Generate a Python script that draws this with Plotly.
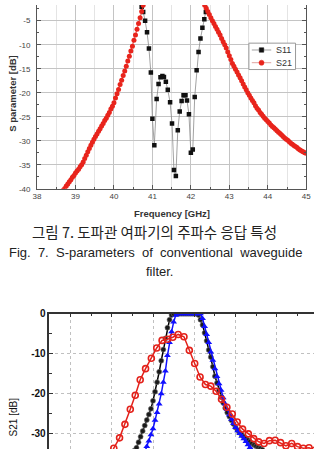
import plotly.graph_objects as go

# ---------------- top chart data (Fig. 7) ----------------
S21_FREQ = [
    38.68, 38.72, 38.76, 38.80, 38.84, 38.88, 38.92, 38.96,
    39.00, 39.04, 39.08, 39.12, 39.16, 39.20, 39.24, 39.28,
    39.32, 39.36, 39.40, 39.44, 39.48, 39.52, 39.56, 39.60,
    39.64, 39.68, 39.72, 39.76, 39.80, 39.84, 39.88, 39.92,
    39.96, 40.00, 40.04, 40.08, 40.12, 40.16, 40.20, 40.24,
    40.28, 40.32, 40.36, 40.40, 40.44, 40.48, 40.52, 40.56,
    40.60, 40.64, 40.68, 40.72, 40.76, 40.80, 40.84,
    41.00, 41.20, 41.40, 41.60, 41.80, 42.00, 42.20,
    42.32, 42.36, 42.40, 42.44, 42.48, 42.52, 42.56, 42.60, 42.64, 42.68,
    42.72, 42.76, 42.80, 42.84, 42.88, 42.92, 42.96, 43.00, 43.04, 43.08,
    43.12, 43.16, 43.20, 43.24, 43.28, 43.32, 43.36, 43.40, 43.44, 43.48,
    43.52, 43.56, 43.60, 43.64, 43.68, 43.72, 43.76, 43.80, 43.84, 43.88,
    43.92, 43.96, 44.00, 44.04, 44.08, 44.12, 44.16, 44.20, 44.24, 44.28,
    44.32, 44.36, 44.40, 44.44, 44.48, 44.52, 44.56, 44.60, 44.64, 44.68,
    44.72, 44.76, 44.80, 44.84, 44.88, 44.92, 44.96, 45.00,
]
S21_DB = [
    -40.3, -39.9, -39.4, -39.0, -38.5, -38.1, -37.6, -37.2,
    -36.7, -36.3, -35.9, -35.4, -35.0, -34.4, -33.7, -33.0,
    -32.3, -31.6, -30.9, -30.3, -29.7, -29.1, -28.6, -28.0,
    -27.5, -26.9, -26.4, -25.8, -25.3, -24.7, -24.1, -23.4,
    -22.8, -22.1, -21.1, -20.2, -19.3, -18.3, -17.4, -16.4,
    -15.5, -14.5, -13.4, -12.4, -11.3, -10.3, -9.1, -8.0,
    -6.8, -5.6, -4.4, -3.1, -1.8, -0.7, -0.3,
    -0.2, -0.4, -0.3, -0.5, -0.3, -0.4, -0.3,
    -1.2, -1.8, -2.4, -3.1, -3.7, -4.4, -5.0, -5.6, -6.2, -6.8,
    -7.4, -8.0, -8.7, -9.4, -10.0, -10.7, -11.5, -12.3, -13.1, -13.9,
    -14.5, -15.1, -15.7, -16.3, -16.9, -17.5, -18.2, -18.8, -19.4, -20.0,
    -20.5, -21.1, -21.6, -22.1, -22.7, -23.2, -23.6, -24.1, -24.5, -24.9,
    -25.3, -25.6, -26.0, -26.3, -26.7, -27.0, -27.3, -27.6, -27.9, -28.2,
    -28.5, -28.8, -29.1, -29.4, -29.7, -29.9, -30.2, -30.5, -30.7, -31.0,
    -31.2, -31.4, -31.7, -31.9, -32.1, -32.3, -32.5, -32.6,
]
S11_FREQ = [
    40.67, 40.72, 40.76, 40.81, 40.86, 40.91, 40.96, 41.00, 41.05, 41.11,
    41.16, 41.21, 41.26, 41.30, 41.35, 41.40, 41.46, 41.51, 41.56, 41.61,
    41.66, 41.71, 41.76, 41.81, 41.86, 41.90, 41.95, 42.00, 42.05, 42.10,
    42.15, 42.20, 42.25, 42.30, 42.35, 42.39, 42.44,
]
S11_DB = [
    -0.8, -2.1, -3.2, -5.0, -7.4, -10.8, -15.8, -25.4, -30.9, -21.3,
    -18.2, -16.8, -16.5, -16.7, -17.7, -19.4, -22.0, -26.4, -36.1, -37.3,
    -27.8, -23.9, -21.7, -20.5, -20.5, -21.6, -24.5, -32.5, -31.8, -20.9,
    -15.3, -11.5, -8.7, -6.5, -4.7, -3.2, -1.0,
]
SERIES_NAMES = ["S11", "S21"]
TOP_XTICKS = [38, 39, 40, 41, 42, 43, 44, 45]
TOP_XTEXT = ["38", "39", "40", "41", "42", "43", "44", "45"]
TOP_YTICKS = [-40, -35, -30, -25, -20, -15, -10, -5]
TOP_YTEXT = ["-40", "-35", "-30", "-25", "-20", "-15", "-10", "-5"]

# ---------------- bottom chart data ----------------
B_RED_X = [
    38.91, 39.05, 39.19, 39.32, 39.45, 39.57, 39.69, 39.82, 39.96, 40.09,
    40.22, 40.35, 40.48, 40.61, 40.75, 40.88, 41.01, 41.14, 41.27, 41.40,
    41.53, 41.66, 41.79, 41.92, 42.04, 42.17, 42.31, 42.44, 42.56, 42.69,
    42.82, 42.96, 43.09, 43.22, 43.36, 43.50, 43.64, 43.78, 43.92,
]
B_RED_Y = [
    -37.0, -33.8, -31.2, -27.8, -24.0, -20.5, -16.6, -13.8, -11.2, -8.6,
    -6.7, -6.4, -5.9, -5.2, -5.8, -9.2, -12.5, -15.9, -17.8, -18.2,
    -19.5, -21.5, -23.5, -25.2, -27.2, -29.0, -30.2, -31.4, -32.2, -32.6,
    -31.9, -31.8, -32.4, -33.2, -32.6, -33.4, -33.8, -33.7, -34.3,
]
B_BLACK_X = [
    39.50, 39.55, 39.60, 39.65, 39.70, 39.75, 39.80, 39.85, 39.90, 39.95,
    40.00, 40.05, 40.10, 40.15, 40.20, 40.25, 40.30, 40.35, 40.40, 40.45,
    40.50, 40.55, 40.60, 40.65, 40.70, 40.75, 40.80, 40.85, 40.90, 40.95,
    41.00, 41.05, 41.10, 41.15, 41.20, 41.25, 41.30, 41.35, 41.40, 41.45,
    41.50, 41.55, 41.60, 41.65, 41.70, 41.75, 41.80, 41.85, 41.90, 41.95,
    42.00, 42.05, 42.10, 42.15, 42.20, 42.25, 42.30, 42.35, 42.40, 42.45,
    42.50, 42.55, 42.60, 42.65,
]
B_BLACK_Y = [
    -35.1, -34.4, -33.7, -32.3, -30.9, -29.5, -28.1, -26.7, -25.3, -23.9,
    -21.9, -19.6, -17.2, -14.6, -11.8, -9.0, -6.2, -3.5, -1.5, -0.3,
    0, 0, 0, 0, 0, 0, 0, 0, 0, 0,
    0, 0, -0.3, -1.5, -2.8, -4.8, -6.8, -9.1, -10.9, -13.3,
    -15.7, -17.4, -19.2, -20.9, -22.4, -23.7, -24.8, -25.8, -26.8, -27.7,
    -28.6, -29.3, -29.9, -30.4, -30.9, -31.3, -31.8, -32.2, -32.6, -33.0,
    -33.3, -33.6, -33.9, -34.2,
]
B_BLUE_X = [
    39.80, 39.85, 39.90, 39.95, 40.00, 40.05, 40.10, 40.15, 40.20, 40.25,
    40.30, 40.35, 40.40, 40.45, 40.50, 40.55, 40.60, 40.65, 40.70, 40.75,
    40.80, 40.85, 40.90, 40.95, 41.00, 41.05, 41.10, 41.15, 41.20, 41.25,
    41.30, 41.35, 41.40, 41.45, 41.50, 41.55, 41.60, 41.65, 41.70, 41.75,
    41.80, 41.85, 41.90, 41.95, 42.00, 42.05, 42.10, 42.15, 42.20, 42.25,
    42.30, 42.35, 42.40,
]
B_BLUE_Y = [
    -34.8, -33.4, -32.0, -30.4, -28.9, -26.8, -24.8, -22.7, -20.1, -17.2,
    -14.4, -10.5, -7.2, -4.5, -2.1, -0.4, 0, 0, 0, 0,
    0, 0, 0, 0, 0, 0, 0, 0, -1.2, -3.2,
    -5.2, -7.2, -9.6, -11.7, -13.8, -15.8, -17.6, -19.2, -21.1, -22.7,
    -24.1, -25.4, -26.5, -27.6, -28.6, -29.4, -30.1, -30.8, -31.4, -32.1,
    -32.9, -33.6, -34.4,
]
BOT_YTICKS = [0, -10, -20, -30]
BOT_YTEXT = ["0", "-10", "-20", "-30"]

W, H = 319, 454
def px(x):
    return x / W
def py(y):
    return 1 - y / H

S11_COLOR = "#111111"
S21_COLOR = "#e8241c"
ARIAL = "Liberation Sans, Arial, sans-serif"

fig = go.Figure()

# top chart traces
fig.add_trace(go.Scatter(
    x=S11_FREQ, y=S11_DB, name=SERIES_NAMES[0], mode="lines+markers",
    line=dict(color="#8a8a8a", width=0.8),
    marker=dict(symbol="square", size=4.5, color=S11_COLOR),
    xaxis="x", yaxis="y", showlegend=False))
fig.add_trace(go.Scatter(
    x=S21_FREQ, y=S21_DB, name=SERIES_NAMES[1], mode="lines+markers",
    line=dict(color=S21_COLOR, width=0.8),
    marker=dict(symbol="circle", size=5, color=S21_COLOR),
    xaxis="x", yaxis="y", showlegend=False))

# bottom chart traces
fig.add_trace(go.Scatter(
    x=B_BLACK_X, y=B_BLACK_Y, mode="lines+markers", showlegend=False,
    line=dict(color="#000000", width=1.5),
    marker=dict(symbol="circle", size=5, color="#1a1a1a",
                line=dict(color="#777777", width=0.6)),
    xaxis="x2", yaxis="y2"))
fig.add_trace(go.Scatter(
    x=B_BLUE_X, y=B_BLUE_Y, mode="lines+markers", showlegend=False,
    line=dict(color="#1010ff", width=1.5),
    marker=dict(symbol="triangle-up", size=6, color="#1010ff"),
    xaxis="x2", yaxis="y2"))
fig.add_trace(go.Scatter(
    x=B_RED_X, y=B_RED_Y, mode="lines+markers", showlegend=False,
    line=dict(color="#e3221b", width=1.5),
    marker=dict(symbol="circle-open", size=6, color="#e3221b",
                line=dict(width=1.6)),
    xaxis="x2", yaxis="y2"))

tick_font = dict(family=ARIAL, size=8, color="#444444")

fig.update_layout(
    width=W, height=H,
    margin=dict(l=0, r=0, t=0, b=0),
    paper_bgcolor="white", plot_bgcolor="white",
    showlegend=False,
    xaxis=dict(
        domain=[px(34), px(311)], range=[38, 45], anchor="y",
        tickmode="array", tickvals=TOP_XTICKS, ticktext=TOP_XTEXT,
        showline=True, linecolor="#555555", linewidth=1, mirror=False,
        ticks="inside", ticklen=4, tickcolor="#555555",
        showgrid=True, gridcolor="#c4c4c4", gridwidth=1,
        minor=dict(tickmode="linear", tick0=38, dtick=0.5, ticks="inside",
                   ticklen=2, tickcolor="#555555", showgrid=True,
                   gridcolor="#e4e4e4", gridwidth=1),
        tickfont=tick_font, zeroline=False),
    yaxis=dict(
        domain=[py(188), 1.0], range=[-40, -1.74], anchor="x",
        tickmode="array", tickvals=TOP_YTICKS, ticktext=TOP_YTEXT,
        showline=True, linecolor="#555555", linewidth=1, mirror="ticks",
        ticks="inside", ticklen=4, tickcolor="#555555",
        showgrid=True, gridcolor="#c4c4c4", gridwidth=1,
        minor=dict(tickmode="linear", tick0=-40, dtick=2.5, ticks="inside",
                   ticklen=2, tickcolor="#555555", showgrid=False),
        ticklabelstandoff=4,
        tickfont=tick_font, zeroline=False),
    xaxis2=dict(
        domain=[px(46.7), 1.0], range=[37.49, 43.9], anchor="y2", side="top",
        tickmode="linear", tick0=38, dtick=1, showticklabels=False,
        showline=True, linecolor="#333333", linewidth=1.5,
        ticks="inside", ticklen=4, tickcolor="#333333",
        showgrid=True, gridcolor="#c0c0c0", gridwidth=1, griddash="dot",
        minor=dict(tickmode="linear", tick0=37.5, dtick=0.5, ticks="inside",
                   ticklen=3, tickcolor="#333333", showgrid=False),
        zeroline=False),
    yaxis2=dict(
        domain=[0.0, py(315.7)], range=[-34, 0], anchor="x2",
        tickmode="array", tickvals=BOT_YTICKS, ticktext=BOT_YTEXT,
        showline=True, linecolor="#333333", linewidth=1.5,
        ticks="inside", ticklen=4, tickcolor="#333333",
        showgrid=True, gridcolor="#c0c0c0", gridwidth=1, griddash="dot",
        minor=dict(tickmode="linear", tick0=0, dtick=5, ticks="inside",
                   ticklen=3, tickcolor="#333333", showgrid=False),
        tickfont=dict(family=ARIAL, size=10, color="#111111", weight="bold"),
        zeroline=False),
)

# legend box for the top chart (drawn in paper coordinates)
shapes = []
shapes.append(dict(type="rect", xref="paper", yref="paper",
                   x0=px(252), x1=px(300), y0=py(66), y1=py(39),
                   line=dict(color="#999999", width=1), fillcolor="white", layer="above"))
for i, (nm, col, lc, sym) in enumerate([(SERIES_NAMES[0], S11_COLOR, "#8a8a8a", "rect"),
                                        (SERIES_NAMES[1], S21_COLOR, "#d88a86", "circle")]):
    yc = 46 + 13 * i
    shapes.append(dict(type="line", xref="paper", yref="paper",
                       x0=px(255), x1=px(275), y0=py(yc), y1=py(yc),
                       line=dict(color=lc, width=0.8), layer="above"))
    r = 2.3 if sym == "rect" else 2.6
    shapes.append(dict(type=sym, xref="paper", yref="paper",
                       x0=px(265 - r), x1=px(265 + r), y0=py(yc + r), y1=py(yc - r),
                       line=dict(color=col, width=0.5), fillcolor=col, layer="above"))

ann = []
for i, nm in enumerate(SERIES_NAMES):
    ann.append(dict(text=nm, x=px(278), y=py(46 + 13 * i), xref="paper", yref="paper",
                    xanchor="left", yanchor="middle", showarrow=False,
                    font=dict(family=ARIAL, size=9, color="#333333")))
ann.append(dict(text="Frequency [GHz]", x=px(173), y=py(213), xref="paper", yref="paper",
                xanchor="center", yanchor="middle", showarrow=False,
                font=dict(family=ARIAL, size=9.5, color="#333333", weight="bold")))
ann.append(dict(text="S parameter [dB]", x=px(8), y=py(90), xref="paper", yref="paper",
                xanchor="center", yanchor="middle", showarrow=False, textangle=-90,
                font=dict(family=ARIAL, size=9.5, color="#333333", weight="bold")))
ann.append(dict(text="그림 7. 도파관 여파기의 주파수 응답 특성", x=px(155), y=py(232),
                xref="paper", yref="paper", xanchor="center", yanchor="middle",
                showarrow=False,
                font=dict(family="Noto Sans CJK KR", size=14.5, color="#222222")))
ann.append(dict(text="Fig.  7.  S-parameters  of  conventional  waveguide", x=px(156),
                y=py(253), xref="paper", yref="paper", xanchor="center",
                yanchor="middle", showarrow=False,
                font=dict(family=ARIAL, size=13, color="#222222")))
ann.append(dict(text="filter.", x=px(160), y=py(273), xref="paper", yref="paper",
                xanchor="center", yanchor="middle", showarrow=False,
                font=dict(family=ARIAL, size=13, color="#222222")))
ann.append(dict(text="S21 [dB]", x=px(10), y=py(421), xref="paper", yref="paper",
                xanchor="center", yanchor="middle", showarrow=False, textangle=-90,
                font=dict(family=ARIAL, size=10, color="#111111")))
fig.update_layout(annotations=ann, shapes=shapes)

fig.write_html("out.html")
